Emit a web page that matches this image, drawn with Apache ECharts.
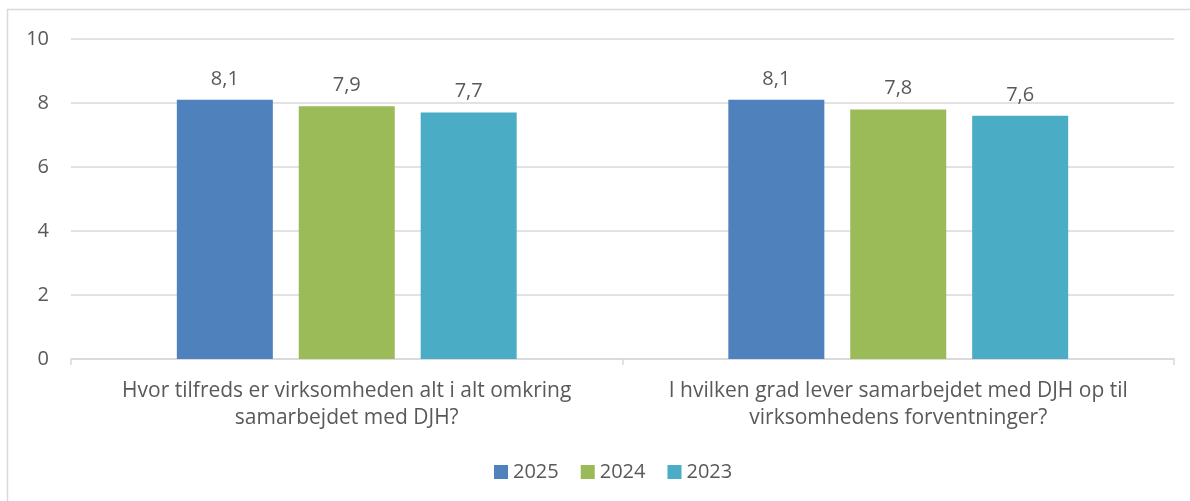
<!DOCTYPE html>
<html>
<head>
<meta charset="utf-8">
<script src="https://cdn.jsdelivr.net/npm/echarts@6/dist/echarts.min.js"></script>
<style>
  html, body { margin: 0; padding: 0; background: #fff; }
  #chart { width: 1190px; height: 501px; }
</style>
</head>
<body>
<div id="chart"></div>
<script>
const categories = [
  'Hvor tilfreds er virksomheden alt i alt omkring\nsamarbejdet med DJH?',
  'I hvilken grad lever samarbejdet med DJH op til\nvirksomhedens forventninger?'
]
const seriesNames = ['2025', '2024', '2023']
const values2025 = [8.1, 8.1]
const values2024 = [7.9, 7.8]
const values2023 = [7.7, 7.6]
const colors = ['#4F81BD', '#9BBB59', '#4BACC6']

const font = '"Open Sans", "Noto Sans", sans-serif'
const textColor = '#595959'

const chart = echarts.init(document.getElementById('chart'))

const fmt = (p) => String(p.value).replace('.', ',')

const makeSeries = (name, data, idx) => ({
  name,
  type: 'bar',
  data,
  barWidth: 96,
  barGap: '27%',
  itemStyle: { color: colors[idx] },
  label: {
    show: true,
    position: 'top',
    distance: 11,
    formatter: fmt,
    color: textColor,
    fontFamily: font,
    fontSize: 20,
  },
})

chart.setOption({
  animation: false,
  backgroundColor: '#fff',
  textStyle: { fontFamily: font },
  graphic: [
    {
      type: 'rect',
      silent: true,
      shape: { x: 7.5, y: 9.5, width: 1300, height: 600 },
      style: { fill: 'none', stroke: '#d9d9d9', lineWidth: 1.5 },
    },
  ],
  grid: { left: 71, right: 16, top: 39, bottom: 142 },
  legend: {
    data: seriesNames,
    bottom: 14,
    left: 489,
    itemWidth: 14,
    itemHeight: 14,
    itemGap: 22,
    icon: 'rect',
    textStyle: { color: textColor, fontFamily: font, fontSize: 20 },
  },
  xAxis: {
    type: 'category',
    data: categories,
    axisLine: { lineStyle: { color: '#d9d9d9', width: 1.5 } },
    axisTick: { show: true, length: 6, lineStyle: { color: '#d9d9d9', width: 1.5 } },
    axisLabel: {
      color: textColor,
      fontFamily: font,
      fontSize: 21,
      lineHeight: 27,
      margin: 19,
      interval: 0,
    },
  },
  yAxis: {
    type: 'value',
    min: 0,
    max: 10,
    interval: 2,
    axisLine: { show: false },
    axisTick: { show: false },
    splitLine: { lineStyle: { color: '#d9d9d9', width: 1.5 } },
    axisLabel: { color: textColor, fontFamily: font, fontSize: 20, margin: 22 },
  },
  series: [
    makeSeries(seriesNames[0], values2025, 0),
    makeSeries(seriesNames[1], values2024, 1),
    makeSeries(seriesNames[2], values2023, 2),
  ],
})

window.addEventListener('resize', () => chart.resize())
</script>
</body>
</html>
